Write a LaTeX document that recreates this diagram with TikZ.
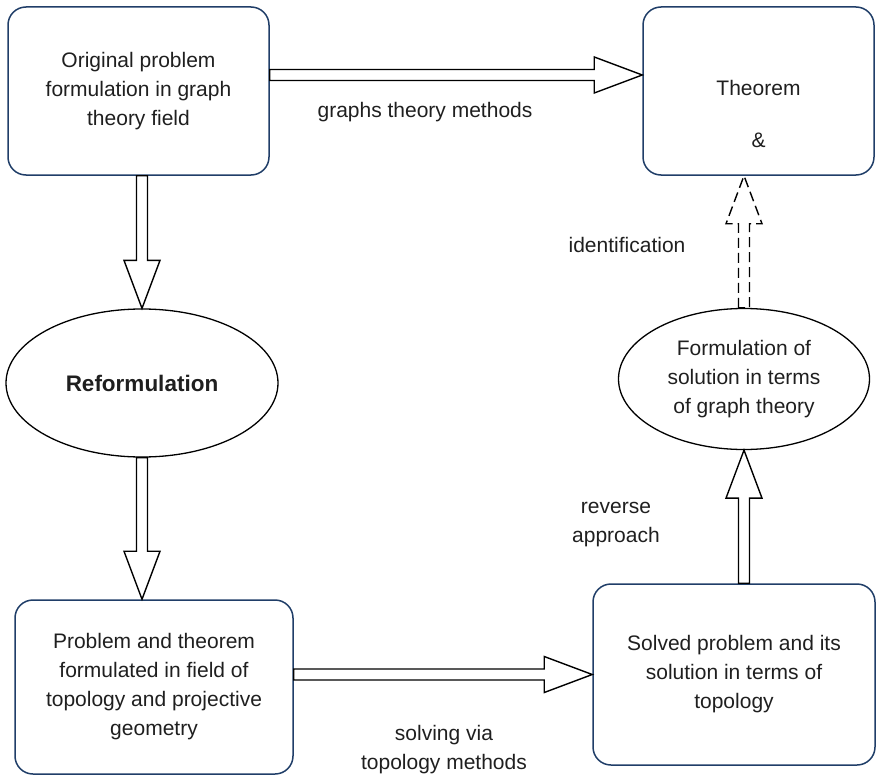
\documentclass[tikz,border=0pt]{standalone}
\usepackage{fontspec}
\setmainfont{Liberation Sans}
\usetikzlibrary{shapes.geometric,calc}
\definecolor{boxblue}{RGB}{32,62,104}

\begin{document}
\begin{tikzpicture}[
    x=1pt, y=-1pt,
    every node/.style={font=\fontsize{21}{29}\selectfont, text=black!88},
    box/.style={rectangle, draw=boxblue, line width=1.5pt, rounded corners=18pt,
                align=center, inner sep=0pt},
    oval/.style={ellipse, draw, line width=1.3pt, align=center, inner sep=0pt},
    lbl/.style={align=center},
    flex/.style={to path={
        let \p1=(\tikztostart), \p2=(\tikztotarget),
            \n1={atan2(\y2-\y1,\x2-\x1)},
            \p3=($(\p2)!48pt!(\p1)$) in
        ($(\p1)+(\n1+90:5.5pt)$) -- ($(\p3)+(\n1+90:5.5pt)$)
        -- ($(\p3)+(\n1+90:18pt)$) -- (\p2)
        -- ($(\p3)+(\n1-90:18pt)$) -- ($(\p3)+(\n1-90:5.5pt)$)
        -- ($(\p1)+(\n1-90:5.5pt)$) -- cycle}},
    flexline/.style={draw, line width=1.4pt, line join=miter}
]
\useasboundingbox (0,0) rectangle (876,776);

\node (original) [box, minimum width=261pt, minimum height=168pt] at (138.5, 91) {Original problem\\formulation in graph\\theory field};
\node (theorem) [box, minimum width=231pt, minimum height=168pt] at (758.5, 91) {\mbox{}\\[33pt]Theorem\\[23pt]\&};
\node (reform) [oval, minimum width=272pt, minimum height=148pt] at (142, 383) {\fontsize{22.5}{29}\selectfont\bfseries Reformulation};
\node (graphform) [oval, minimum width=251pt, minimum height=141pt] at (744, 379) {Formulation of\\solution in terms\\of graph theory};
\node (topoform) [box, minimum width=278pt, minimum height=174pt] at (154, 687) {Problem and theorem\\formulated in field of\\topology and projective\\geometry};
\node (solved) [box, minimum width=282pt, minimum height=181pt] at (734, 674.5) {Solved problem and its\\solution in terms of\\topology};

\node (graphlbl) [lbl] at (425, 112) {graphs theory methods};
\node (identlbl) [lbl] at (627, 245) {identification};
\node (reverselbl) [lbl] at (616, 525) {reverse\\approach};
\node (solvelbl) [lbl] at (444, 750) {solving via\\topology methods};

% hollow arrows between the steps
\draw [flexline] ([yshift=16pt]original.east) to[flex] ([yshift=16pt]theorem.west);
\draw [flexline] (reform.north |- original.south) to[flex] (reform.north);
\draw [flexline] (reform.south) to[flex] (reform.south |- topoform.north);
\draw [flexline] (solved.west -| topoform.east) to[flex] (solved.west);
\draw [flexline] (solved.north -| graphform.south) to[flex] (graphform.south);
\draw [flexline, dash pattern=on 10pt off 5pt] (graphform.north) to[flex] (graphform.north |- theorem.south);
\end{tikzpicture}
\end{document}
